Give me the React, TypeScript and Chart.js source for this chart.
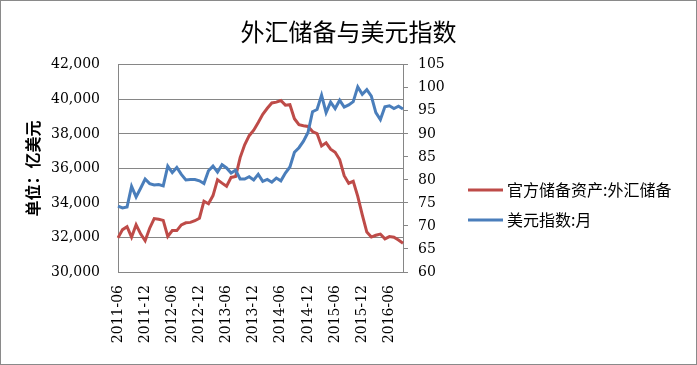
import React, { useEffect, useRef } from "react";
import { Chart, registerables } from "chart.js";

Chart.register(...registerables);

const chartTitle = "外汇储备与美元指数";
const leftAxisTitle = "单位：亿美元";
const seriesNames = ["官方储备资产:外汇储备", "美元指数:月"];
const seriesColors = ["#BE4B48", "#4A7EBB"];

const categories = [
  "2011-06", "2011-07", "2011-08", "2011-09", "2011-10", "2011-11", "2011-12",
  "2012-01", "2012-02", "2012-03", "2012-04", "2012-05", "2012-06", "2012-07", "2012-08", "2012-09", "2012-10", "2012-11", "2012-12",
  "2013-01", "2013-02", "2013-03", "2013-04", "2013-05", "2013-06", "2013-07", "2013-08", "2013-09", "2013-10", "2013-11", "2013-12",
  "2014-01", "2014-02", "2014-03", "2014-04", "2014-05", "2014-06", "2014-07", "2014-08", "2014-09", "2014-10", "2014-11", "2014-12",
  "2015-01", "2015-02", "2015-03", "2015-04", "2015-05", "2015-06", "2015-07", "2015-08", "2015-09", "2015-10", "2015-11", "2015-12",
  "2016-01", "2016-02", "2016-03", "2016-04", "2016-05", "2016-06", "2016-07", "2016-08", "2016-09",
];

// 官方储备资产:外汇储备 (亿美元)
const fxReserves = [
  31975, 32453, 32625, 32017, 32738, 32208, 31811,
  32536, 33095, 33050, 32989, 32061, 32400, 32400, 32729, 32851, 32874, 32970, 33116,
  34100, 33954, 34426, 35345, 35148, 34967, 35478, 35530, 36627, 37366, 37895, 38213,
  38660, 39137, 39481, 39788, 39839, 39932, 39663, 39688, 38877, 38529, 38474, 38430,
  38134, 38015, 37300, 37481, 37111, 36938, 36513, 35574, 35141, 35255, 34384, 33304,
  32309, 32023, 32126, 32197, 31917, 32052, 32011, 31852, 31664,
];

// 美元指数:月
const dollarIndex = [
  74.3, 73.9, 74.1, 78.6, 76.3, 78.2, 80.2,
  79.2, 78.9, 79.0, 78.7, 83.0, 81.6, 82.7, 81.2, 80.0, 80.1, 80.1, 79.8,
  79.2, 82.0, 83.0, 81.7, 83.3, 82.6, 81.5, 82.1, 80.2, 80.2, 80.7, 80.0,
  81.2, 79.7, 80.1, 79.5, 80.4, 79.8, 81.5, 82.8, 86.0, 87.0, 88.4, 90.3,
  94.8, 95.3, 98.4, 94.6, 96.9, 95.5, 97.3, 95.8, 96.3, 97.0, 100.2, 98.6,
  99.6, 98.2, 94.6, 93.1, 95.9, 96.1, 95.5, 96.0, 95.4,
];

const leftAxisRange = [30000, 42000, 2000];
const rightAxisRange = [60, 105, 5];

const W = 697;
const H = 365;

const bgPlugin = {
  id: "bgBorder",
  beforeDraw(chart: any) {
    const ctx = chart.ctx;
    ctx.save();
    ctx.fillStyle = "#ffffff";
    ctx.fillRect(0, 0, chart.width, chart.height);
    ctx.strokeStyle = "#8a8a8a";
    ctx.lineWidth = 1;
    ctx.strokeRect(0.5, 0.5, chart.width - 1, chart.height - 1);
    ctx.restore();
  },
};

const legendPlugin = {
  id: "customLegend",
  afterDraw(chart: any) {
    const ctx = chart.ctx;
    ctx.save();
    const x0 = 468;
    const x1 = 503;
    const ys = [190, 220];
    seriesNames.forEach((name, i) => {
      ctx.strokeStyle = seriesColors[i];
      ctx.lineWidth = 3;
      ctx.lineCap = "butt";
      ctx.beginPath();
      ctx.moveTo(x0, ys[i]);
      ctx.lineTo(x1, ys[i]);
      ctx.stroke();
      ctx.fillStyle = "#000";
      ctx.font = '16px "Noto Sans CJK SC"';
      ctx.textBaseline = "middle";
      ctx.textAlign = "left";
      ctx.fillText(name, x1 + 4, ys[i]);
    });
    ctx.restore();
  },
};

export default function App() {
  const ref = useRef<HTMLCanvasElement | null>(null);

  useEffect(() => {
    document.body.style.margin = "0";
    const canvas = ref.current;
    if (!canvas) return;
    const numFont = { family: '"DejaVu Serif"', size: 14 };
    const chart = new Chart(canvas, {
      type: "line",
      data: {
        labels: categories,
        datasets: [
          {
            label: seriesNames[0],
            data: fxReserves,
            borderColor: seriesColors[0],
            backgroundColor: seriesColors[0],
            borderWidth: 3,
            pointRadius: 0,
            tension: 0,
            yAxisID: "y",
            order: 1,
          },
          {
            label: seriesNames[1],
            data: dollarIndex,
            borderColor: seriesColors[1],
            backgroundColor: seriesColors[1],
            borderWidth: 3,
            pointRadius: 0,
            tension: 0,
            yAxisID: "y1",
            order: 0,
          },
        ],
      },
      options: {
        responsive: false,
        animation: false,
        devicePixelRatio: 1,
        layout: { padding: 0 },
        plugins: {
          legend: { display: false },
          tooltip: { enabled: false },
          title: {
            display: true,
            text: chartTitle,
            color: "#000",
            font: { family: '"Noto Sans CJK SC"', size: 24, weight: "normal" },
            padding: { top: 17, bottom: 19 },
          },
        },
        scales: {
          x: {
            type: "category",
            offset: false,
            grid: { display: false, drawTicks: false },
            border: { display: true, color: "#868686", width: 1 },
            ticks: {
              autoSkip: false,
              minRotation: 90,
              maxRotation: 90,
              padding: 13,
              color: "#000",
              font: numFont,
              callback: function (this: any, value: any, index: number) {
                return index % 6 === 0 ? categories[index] : null;
              },
            },
            afterFit: (s: any) => {
              s.height = H - 272;
            },
          },
          y: {
            type: "linear",
            position: "left",
            min: leftAxisRange[0],
            max: leftAxisRange[1],
            grid: { color: "#868686", drawTicks: false, lineWidth: 1 },
            border: { display: true, color: "#868686", width: 1 },
            ticks: {
              stepSize: leftAxisRange[2],
              padding: 18,
              color: "#000",
              font: numFont,
              callback: (v: any) => Number(v).toLocaleString("en-US"),
            },
            title: {
              display: true,
              text: leftAxisTitle,
              color: "#000",
              font: { family: '"Noto Sans CJK SC"', size: 16, weight: "bold" },
              padding: { top: 23, bottom: 0 },
            },
            afterFit: (s: any) => {
              s.width = 118;
            },
          },
          y1: {
            type: "linear",
            position: "right",
            min: rightAxisRange[0],
            max: rightAxisRange[1],
            grid: {
              drawOnChartArea: false,
              drawTicks: true,
              tickLength: 5,
              color: "#868686",
            },
            border: { display: true, color: "#868686", width: 1 },
            ticks: {
              stepSize: rightAxisRange[2],
              padding: 10,
              color: "#000",
              font: numFont,
            },
            afterFit: (s: any) => {
              s.width = W - 403;
            },
          },
        },
      },
      plugins: [bgPlugin, legendPlugin],
    });
    return () => chart.destroy();
  }, []);

  return (
    <div style={{ width: W, height: H }}>
      <canvas ref={ref} width={W} height={H} style={{ display: "block" }} />
    </div>
  );
}
